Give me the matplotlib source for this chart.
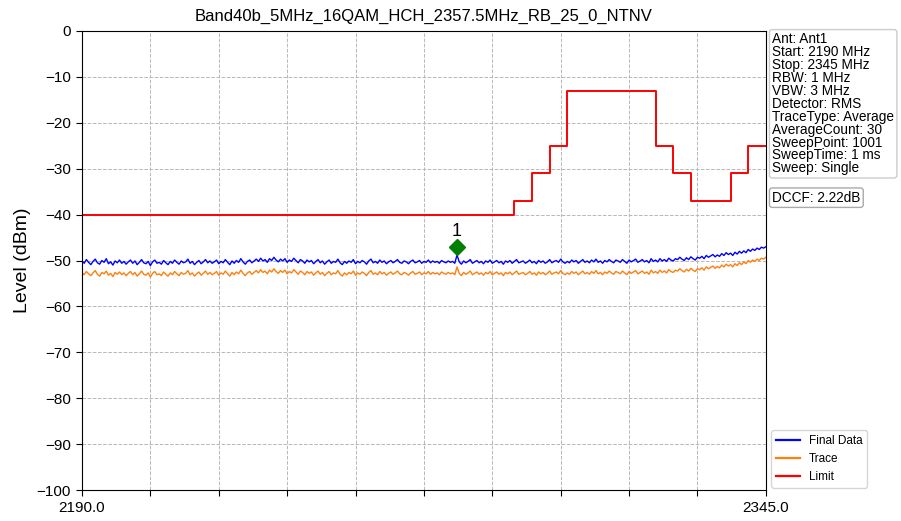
import numpy as np
import matplotlib
matplotlib.use('Agg')
import matplotlib.pyplot as plt

plt.rcParams['font.family'] = ['Liberation Sans', 'DejaVu Sans']

TITLE = 'Band40b_5MHz_16QAM_HCH_2357.5MHz_RB_25_0_NTNV'
F_START, F_STOP = 2190.0, 2345.0

# trace values, one every 0.5 MHz (2190 .. 2345)
final_data = [
    -50.1, -50.6, -49.8, -50.4, -50.9, -50.2, -49.7, -50.5, -50.8, -50.0, -50.4, -49.6, -50.7, -50.3, -51.0, -50.1, -50.5, -49.9, -50.6, -50.2,
    -50.8, -50.3, -49.9, -50.6, -50.1, -50.9, -50.4, -49.8, -50.5, -50.7, -50.2, -51.1, -50.3, -49.9, -50.6, -50.4, -50.8, -50.0, -50.5, -50.9,
    -50.2, -50.6, -49.9, -50.4, -50.8, -50.1, -50.5, -50.3, -49.7, -50.6, -50.2, -50.9, -50.4, -50.0, -50.7, -50.3, -49.8, -50.5, -50.1, -50.6,
    -50.3, -49.9, -50.7, -50.2, -50.5, -49.8, -50.4, -50.9, -50.1, -50.6, -50.0, -50.4, -49.6, -50.3, -50.8, -50.2, -49.9, -50.5, -50.1, -49.7,
    -50.2, -49.5, -50.1, -49.8, -50.4, -49.6, -50.0, -49.3, -49.9, -50.3, -49.7, -50.1, -49.6, -50.4, -49.9, -50.2, -49.5, -50.0, -50.5, -49.8,
    -50.1, -50.6, -49.9, -50.3, -50.0, -50.7, -50.2, -49.8, -50.5, -50.1, -50.8, -50.3, -49.9, -50.6, -50.2, -50.4, -49.7, -50.5, -50.9, -50.2,
    -50.6, -50.1, -50.4, -49.8, -50.7, -50.2, -50.5, -50.0, -50.3, -50.8, -50.1, -49.7, -50.5, -50.2, -50.6, -49.9, -50.4, -50.1, -50.7, -50.3,
    -50.0, -50.5, -50.2, -49.8, -50.4, -50.6, -50.1, -50.3, -50.7, -50.2, -49.9, -50.5, -50.3, -50.0, -50.6, -50.2, -50.4, -49.9, -50.5, -50.1,
    -50.4, -50.2, -50.6, -50.0, -50.3, -50.5, -50.1, -50.4, -50.2, -50.6, -48.8, -50.3, -50.8, -50.1, -50.5, -50.2, -49.8, -50.6, -50.3, -50.0,
    -50.5, -50.2, -50.7, -50.1, -50.4, -49.9, -50.6, -50.3, -50.0, -50.5, -50.2, -50.8, -50.1, -50.4, -50.0, -50.6, -50.2, -49.8, -50.5, -50.3,
    -50.1, -50.6, -50.3, -49.9, -50.5, -50.2, -50.7, -50.0, -50.4, -50.1, -50.6, -50.3, -49.8, -50.5, -50.2, -50.0, -50.4, -49.7, -50.3, -50.6,
    -50.2, -50.5, -49.9, -50.3, -50.0, -50.6, -50.2, -49.8, -50.4, -50.1, -50.5, -49.9, -50.3, -49.7, -50.4, -50.1, -50.6, -50.0, -50.3, -49.8,
    -50.2, -50.5, -49.9, -50.1, -50.4, -49.8, -50.2, -50.6, -49.9, -50.3, -50.0, -49.7, -50.4, -50.1, -49.8, -50.3, -50.0, -50.5, -49.6, -50.2,
    -49.9, -50.3, -49.6, -50.1, -49.8, -50.2, -49.5, -49.9, -50.1, -49.6, -49.8, -49.3, -49.7, -50.0, -49.4, -49.8, -49.2, -49.6, -49.9, -49.3,
    -49.5, -49.1, -49.6, -48.9, -49.3, -49.0, -48.7, -49.2, -48.8, -49.1, -48.5, -48.9, -48.3, -48.7, -48.4, -48.9, -48.2, -48.6, -48.0, -48.4,
    -47.9, -48.3, -47.6, -48.0, -47.5, -47.8, -47.3, -47.6, -47.1, -47.3, -47.0,
]

trace = [
    -52.6, -53.1, -52.4, -52.9, -53.3, -52.7, -52.2, -53.0, -53.4, -52.6, -52.9, -52.3, -53.2, -52.8, -53.5, -52.6, -53.0, -52.5, -53.1, -52.7,
    -53.3, -52.8, -52.4, -53.1, -52.6, -53.4, -52.9, -52.3, -53.0, -53.2, -52.7, -53.6, -52.8, -52.4, -53.1, -52.9, -53.3, -52.5, -53.0, -53.4,
    -52.7, -53.1, -52.4, -52.9, -53.3, -52.6, -53.0, -52.8, -52.2, -53.1, -52.7, -53.4, -52.9, -52.5, -53.2, -52.8, -52.3, -53.0, -52.6, -53.1,
    -52.8, -52.4, -53.2, -52.7, -53.0, -52.3, -52.9, -53.4, -52.6, -53.1, -52.5, -52.9, -52.1, -52.8, -53.3, -52.7, -52.4, -53.0, -52.6, -52.2,
    -52.7, -52.0, -52.6, -52.3, -52.9, -52.1, -52.5, -51.8, -52.4, -52.8, -52.2, -52.6, -52.1, -52.9, -52.4, -52.7, -52.0, -52.5, -53.0, -52.3,
    -52.6, -53.1, -52.4, -52.8, -52.5, -53.2, -52.7, -52.3, -53.0, -52.6, -53.3, -52.8, -52.4, -53.1, -52.7, -52.9, -52.2, -53.0, -53.4, -52.7,
    -53.1, -52.6, -52.9, -52.3, -53.2, -52.7, -53.0, -52.5, -52.8, -53.3, -52.6, -52.2, -53.0, -52.7, -53.1, -52.4, -52.9, -52.6, -53.2, -52.8,
    -52.5, -53.0, -52.7, -52.3, -52.9, -53.1, -52.6, -52.8, -53.2, -52.7, -52.4, -53.0, -52.8, -52.5, -53.1, -52.7, -52.9, -52.4, -53.0, -52.6,
    -52.9, -52.7, -53.1, -52.5, -52.8, -53.0, -52.6, -52.9, -52.7, -53.1, -51.4, -52.8, -53.3, -52.6, -53.0, -52.7, -52.3, -53.1, -52.8, -52.5,
    -53.0, -52.7, -53.2, -52.6, -52.9, -52.4, -53.1, -52.8, -52.5, -53.0, -52.7, -53.3, -52.6, -52.9, -52.5, -53.1, -52.7, -52.3, -53.0, -52.8,
    -52.6, -53.1, -52.8, -52.4, -53.0, -52.7, -53.2, -52.5, -52.9, -52.6, -53.1, -52.8, -52.3, -53.0, -52.7, -52.5, -52.9, -52.2, -52.8, -53.1,
    -52.7, -53.0, -52.4, -52.8, -52.5, -53.1, -52.7, -52.3, -52.9, -52.6, -53.0, -52.4, -52.8, -52.2, -52.9, -52.6, -53.1, -52.5, -52.8, -52.3,
    -52.7, -53.0, -52.4, -52.6, -52.9, -52.3, -52.7, -53.1, -52.4, -52.8, -52.5, -52.2, -52.9, -52.6, -52.3, -52.8, -52.5, -53.0, -52.1, -52.7,
    -52.4, -52.8, -52.1, -52.6, -52.3, -52.7, -52.0, -52.4, -52.6, -52.1, -52.3, -51.8, -52.2, -52.5, -51.9, -52.3, -51.7, -52.1, -52.4, -51.8,
    -52.0, -51.6, -52.1, -51.4, -51.8, -51.5, -51.2, -51.7, -51.3, -51.6, -51.0, -51.4, -50.8, -51.2, -50.9, -51.4, -50.7, -51.1, -50.5, -50.9,
    -50.3, -50.7, -50.0, -50.4, -49.9, -50.2, -49.7, -50.0, -49.5, -49.7, -49.3,
]

limit_freq = [2190, 2288, 2292, 2296, 2300, 2320, 2324, 2328, 2337, 2341, 2345]
limit_level = [-40, -37, -31, -25, -13, -25, -31, -37, -31, -25, -25]

marker_freq, marker_level = 2275.0, -47.0

info_lines = [
    'Ant: Ant1', 'Start: 2190 MHz', 'Stop: 2345 MHz', 'RBW: 1 MHz',
    'VBW: 3 MHz', 'Detector: RMS', 'TraceType: Average', 'AverageCount: 30',
    'SweepPoint: 1001', 'SweepTime: 1 ms', 'Sweep: Single',
]
dccf_text = 'DCCF: 2.22dB'


def main():
    freq = np.linspace(F_START, F_STOP, len(final_data))

    fig = plt.figure(figsize=(9.01, 5.21), dpi=100)
    ax = fig.add_axes([0.091, 0.0595, 0.759, 0.881])

    ax.plot(freq, final_data, color='#0000ff', lw=1.0, label='Final Data')
    ax.plot(freq, trace, color='#ff7f0e', lw=1.0, label='Trace')
    ax.plot(limit_freq, limit_level, color='#ff0000', lw=1.4,
            drawstyle='steps-post', label='Limit')
    ax.plot(marker_freq, marker_level, marker='D', color='green', ms=8.5,
            ls='none')
    ax.text(marker_freq, marker_level + 1.5, '1', ha='center', va='bottom',
            fontsize=13)

    ax.set_xlim(F_START, F_STOP)
    ax.set_ylim(-100, 0)
    xt = np.linspace(F_START, F_STOP, 11)
    ax.set_xticks(xt)
    ax.set_xticklabels(['2190.0'] + [''] * 9 + ['2345.0'])
    ax.set_yticks(np.arange(-100, 1, 10))
    ax.tick_params(labelsize=11, length=4.5)
    ax.grid(True, ls='--', color='#b8b8b8', lw=0.7)
    ax.set_ylabel('Level (dBm)', fontsize=14)
    ax.set_title(TITLE, fontsize=12, pad=7)

    fig.text(0.857, 0.938, '\n'.join(info_lines), fontsize=9.8, va='top',
             linespacing=0.9,
             bbox=dict(boxstyle='round,pad=0.2', fc='white', ec='#cccccc'))
    fig.text(0.857, 0.634, dccf_text, fontsize=9.8, va='top',
             bbox=dict(boxstyle='round,pad=0.2', fc='white', ec='#aaaaaa'))

    leg = ax.legend(loc='lower left', bbox_to_anchor=(0.856, 0.064),
                    bbox_transform=fig.transFigure, fontsize=8.5,
                    borderaxespad=0)
    for h in leg.get_lines():
        h.set_linewidth(1.6)

    fig.savefig('out.png', dpi=100)


if __name__ == '__main__':
    main()
